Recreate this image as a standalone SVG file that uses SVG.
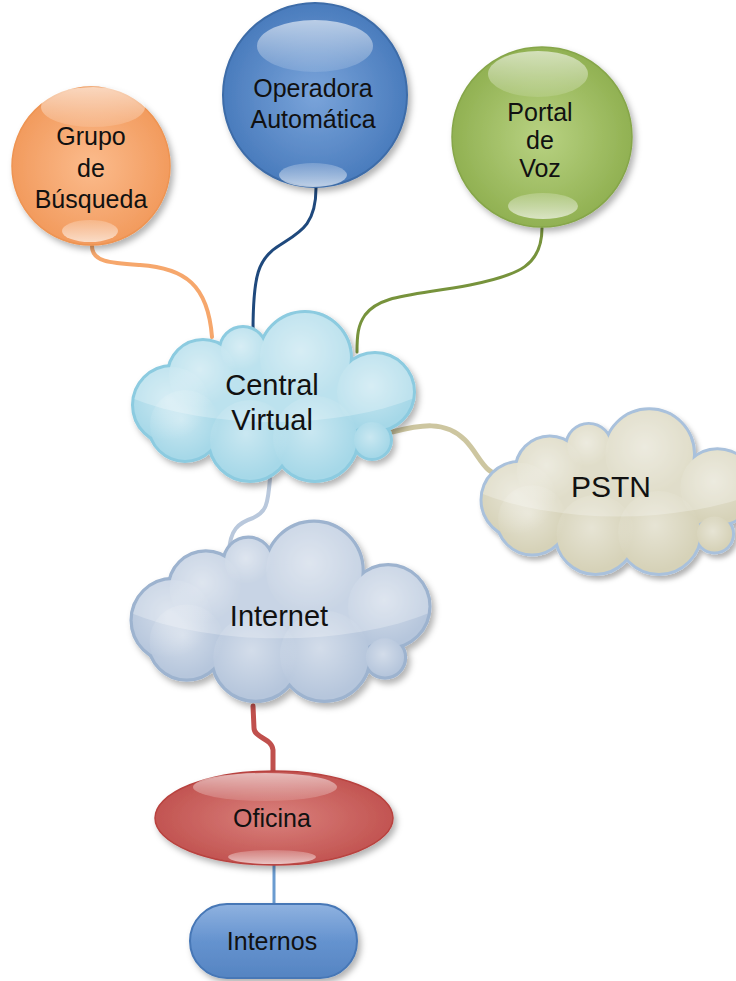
<svg xmlns="http://www.w3.org/2000/svg" xmlns:xlink="http://www.w3.org/1999/xlink" width="736" height="981" viewBox="0 0 736 981">
<style>
text{font-family:"Liberation Sans",Arial,sans-serif;fill:#111;text-anchor:middle}
.lbl{font-size:25px}
.big{font-size:29px}
.con{fill:none;stroke-linecap:round}
</style>
<defs>
<filter id="sh" x="-20%" y="-20%" width="150%" height="150%"><feDropShadow dx="3" dy="4" stdDeviation="3" flood-color="#000" flood-opacity="0.3"/></filter>
<radialGradient id="gOr" cx="0.5" cy="0.5" r="0.5"><stop offset="0" stop-color="#fbbb8c"/><stop offset="1" stop-color="#f29b5e"/></radialGradient>
<radialGradient id="gBl" cx="0.5" cy="0.5" r="0.5"><stop offset="0" stop-color="#7aa4da"/><stop offset="1" stop-color="#4a7cbd"/></radialGradient>
<radialGradient id="gGr" cx="0.5" cy="0.5" r="0.5"><stop offset="0" stop-color="#b8d282"/><stop offset="1" stop-color="#91b152"/></radialGradient>
<radialGradient id="gRd" cx="0.5" cy="0.5" r="0.55"><stop offset="0" stop-color="#d9807c"/><stop offset="1" stop-color="#c0504d"/></radialGradient>
<linearGradient id="gIn" x1="0" y1="0" x2="0" y2="1"><stop offset="0" stop-color="#8fb2e0"/><stop offset="0.5" stop-color="#6593cf"/><stop offset="1" stop-color="#5584c2"/></linearGradient>
<linearGradient id="gloss" x1="0" y1="0" x2="0" y2="1"><stop offset="0" stop-color="#fff" stop-opacity="0.6"/><stop offset="1" stop-color="#fff" stop-opacity="0.12"/></linearGradient>
<linearGradient id="glossB" x1="0" y1="0" x2="0" y2="1"><stop offset="0" stop-color="#fff" stop-opacity="0.2"/><stop offset="1" stop-color="#fff" stop-opacity="0.65"/></linearGradient>
<radialGradient id="bumpHi" cx="0.45" cy="0.42" r="0.55"><stop offset="0" stop-color="#fff" stop-opacity="0.4"/><stop offset="1" stop-color="#fff" stop-opacity="0"/></radialGradient>
<g id="bumps">
<circle cx="-70" cy="-25" r="34"/>
<circle cx="-30" cy="-50" r="22"/>
<circle cx="32" cy="-42" r="45"/>
<circle cx="102" cy="-8" r="38"/>
<circle cx="99" cy="40" r="18"/>
<circle cx="42" cy="38" r="42"/>
<circle cx="-23" cy="40" r="40"/>
<circle cx="-88" cy="25" r="35"/>
<circle cx="-101" cy="5" r="38"/>
</g>
<g id="cloud"><use href="#bumps"/><ellipse cx="0" cy="0" rx="105" ry="48"/></g>
<mask id="cm"><use href="#cloud" fill="#fff"/></mask>
</defs>

<g id="connectors">
<path class="con" d="M92,246 C92,262 110,263 140,265 C185,268 208,285 212,337" stroke="#f6a76c" stroke-width="4"/>
<path class="con" d="M316,188 C316,225 300,232 280,245 C258,258 253,275 253,332" stroke="#1f497d" stroke-width="3"/>
<path class="con" d="M542,228 C542,265 520,275 470,285 C410,296 380,295 365,315 C358,325 357,335 357,352" stroke="#77933c" stroke-width="3"/>
<path class="con" d="M392,432 C420,425 445,420 465,440 C480,455 485,478 505,474" stroke="#cdc6a0" stroke-width="5"/>
<path class="con" d="M270,478 C268,505 266,512 253,518 C238,523 230,530 229,552" stroke="#b9c8dc" stroke-width="4"/>
<path class="con" d="M253,706 L254,728 C254,738 272,738 273,750 L273,772" stroke="#c0504d" stroke-width="5"/>
<path class="con" d="M274,864 L274,905" stroke="#6a9bd0" stroke-width="3"/>
</g>

<g id="grupo-busqueda">
<circle cx="91" cy="166" r="79" fill="url(#gOr)" stroke="#ee9452" stroke-width="1.5" filter="url(#sh)"/>
<ellipse cx="93" cy="107" rx="52" ry="20" fill="url(#gloss)"/>
<ellipse cx="90" cy="231" rx="28" ry="11" fill="url(#glossB)"/>
<text class="lbl" x="91" y="145">Grupo</text>
<text class="lbl" x="91" y="177">de</text>
<text class="lbl" x="91" y="208">Búsqueda</text>
</g>

<g id="operadora-automatica">
<circle cx="315" cy="95" r="92" fill="url(#gBl)" stroke="#3d6ca8" stroke-width="2" filter="url(#sh)"/>
<ellipse cx="315" cy="46" rx="58" ry="26" fill="url(#gloss)"/>
<ellipse cx="313" cy="175" rx="34" ry="12" fill="url(#glossB)"/>
<text class="lbl" x="313" y="97">Operadora</text>
<text class="lbl" x="313" y="128">Automática</text>
</g>

<g id="portal-voz">
<circle cx="542" cy="137" r="90" fill="url(#gGr)" stroke="#86a64a" stroke-width="1.5" filter="url(#sh)"/>
<ellipse cx="538" cy="74" rx="50" ry="23" fill="url(#gloss)"/>
<ellipse cx="543" cy="206" rx="35" ry="13" fill="url(#glossB)"/>
<text class="lbl" x="540" y="121">Portal</text>
<text class="lbl" x="540" y="149">de</text>
<text class="lbl" x="540" y="177">Voz</text>
</g>

<g id="central-virtual">
<g transform="translate(273,400)">
<use href="#cloud" fill="#8ccbe0" stroke="#8ccbe0" stroke-width="6" filter="url(#sh)"/>
<use href="#cloud" fill="#a6d8e8"/>
<use href="#bumps" fill="url(#bumpHi)"/>
<ellipse cx="0" cy="-60" rx="200" ry="82" fill="#fff" fill-opacity="0.25" mask="url(#cm)"/>
</g>
<text class="big" x="272" y="395">Central</text>
<text class="big" x="272" y="430">Virtual</text>
</g>

<g id="pstn">
<g transform="translate(618,495) scale(0.975)">
<use href="#cloud" fill="#a9c1dc" stroke="#a9c1dc" stroke-width="6" filter="url(#sh)"/>
<use href="#cloud" fill="#d6d2b8"/>
<use href="#bumps" fill="url(#bumpHi)"/>
<ellipse cx="0" cy="-60" rx="200" ry="82" fill="#fff" fill-opacity="0.25" mask="url(#cm)"/>
</g>
<text class="big" x="611" y="497" style="font-size:30px">PSTN</text>
</g>

<g id="internet">
<g transform="translate(280,615) scale(1.06)">
<use href="#cloud" fill="#9db3cf" stroke="#9db3cf" stroke-width="6" filter="url(#sh)"/>
<use href="#cloud" fill="#b6c6dc"/>
<use href="#bumps" fill="url(#bumpHi)"/>
<ellipse cx="0" cy="-60" rx="200" ry="82" fill="#fff" fill-opacity="0.25" mask="url(#cm)"/>
</g>
<text class="big" x="279" y="626">Internet</text>
</g>

<g id="oficina">
<ellipse cx="274" cy="818" rx="119" ry="47" fill="url(#gRd)" stroke="#b8423f" stroke-width="1.5" filter="url(#sh)"/>
<ellipse cx="265" cy="787" rx="72" ry="14" fill="url(#gloss)"/>
<ellipse cx="272" cy="857" rx="44" ry="7" fill="url(#glossB)"/>
<text class="lbl" x="272" y="827">Oficina</text>
</g>

<g id="internos">
<rect x="190" y="904" width="167" height="74" rx="37" fill="url(#gIn)" stroke="#4677b6" stroke-width="2" filter="url(#sh)"/>
<text class="lbl" x="272" y="950">Internos</text>
</g>
</svg>
